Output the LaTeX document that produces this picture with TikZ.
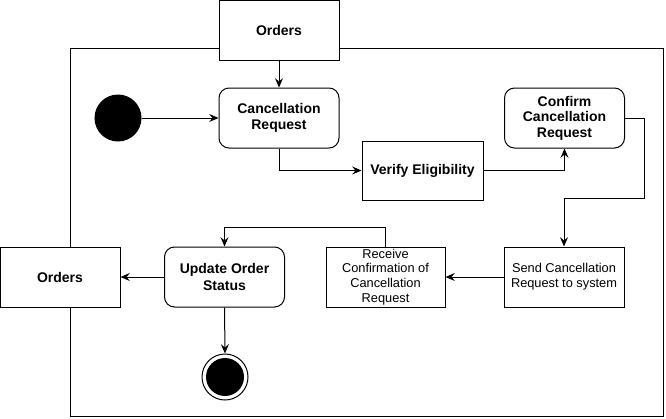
\documentclass[tikz,border=0pt]{standalone}
\usepackage{fontspec}
\setmainfont{Liberation Sans}
\usetikzlibrary{arrows.meta,calc}
\begin{document}
\begin{tikzpicture}[x=0.75pt,y=-0.75pt,
  every path/.style={line width=0.75pt},
  box/.style={draw=black,fill=white,minimum width=90pt,minimum height=45pt,inner sep=1pt,align=center,font=\fontsize{9.6}{11}\selectfont},
  bbox/.style={box,font=\fontsize{10.5}{12.2}\selectfont\bfseries},
  act/.style={bbox,rounded corners=7.5pt},
  arr/.style={-{Stealth[length=7pt,width=6pt,inset=2.5pt]}},
  startnode/.style={circle,fill=black,draw=black,minimum size=34.5pt,inner sep=0pt},
]
\useasboundingbox (0,0) rectangle (666,418);
\draw (70,48) rectangle (663,416);

\node[bbox] (ordT) at (279,30) {Orders};
\node[act] (cr) at (279,118) {Cancellation\\Request};
\node[startnode] (start) at (118,118) {};
\node[bbox,minimum width=90.75pt,minimum height=44.25pt] (ve) at (422.5,170.5) {Verify Eligibility};
\node[act,font=\fontsize{10.5}{11.6}\selectfont\bfseries] (ccr) at (564.5,118) {Confirm\\Cancellation\\Request};
\node[box] (sc) at (564,277) {Send Cancellation\\Request to system};
\node[box,minimum width=89.25pt] (rc) at (385.5,277) {Receive\\Confirmation of\\Cancellation\\Request};
\node[act] (uos) at (224.5,277) {Update Order\\Status};
\node[bbox] (ordL) at (60,277) {Orders};
\node[circle,draw=black,fill=white,minimum size=34.5pt,inner sep=0pt] (fin) at (225,377) {};
\node[circle,fill=black,minimum size=28.5pt,inner sep=0pt] (finin) at (fin.center) {};

\coordinate (c1) at (644,198);
\coordinate (c2) at (385.5,227);

\draw[arr] (ordT.south) -- (cr.north);
\draw[arr] (start.east) -- (cr.west);
\draw[arr] (cr.south) |- (ve.west);
\draw[arr] (ve.east) -| (ccr.south);
\draw[arr] (ccr.east) -| (c1) -| (sc.north);
\draw[arr] (sc.west) -- (rc.east);
\draw[arr] (rc.north) -- (c2) -| (uos.north);
\draw[arr] (uos.west) -- (ordL.east);
\draw[arr] (uos.south) -- (fin.north);
\end{tikzpicture}
\end{document}
